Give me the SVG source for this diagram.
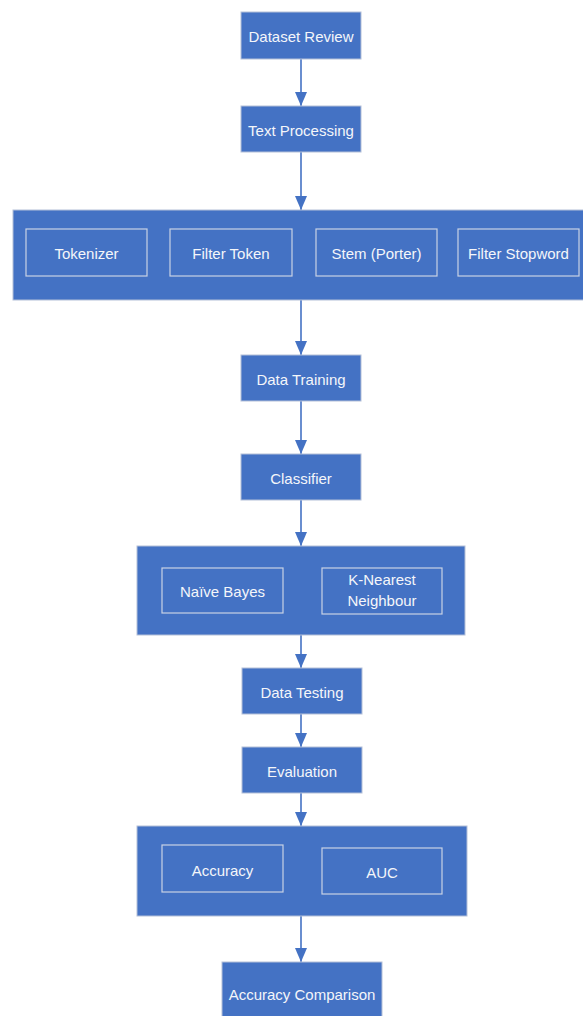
<svg xmlns="http://www.w3.org/2000/svg" width="583" height="1016" viewBox="0 0 583 1016">
<defs>
<style>
.box{fill:#4472C4;stroke:#B4C0D8;stroke-width:1}
.inner{fill:#4472C4;stroke:#C9D2E4;stroke-width:1.2}
.t{font-family:"Liberation Sans",Arial,sans-serif;font-size:15px;fill:#F4F6FA;text-anchor:middle}
.c{stroke:#4472C4;stroke-width:1.6;fill:none}
</style>
<marker id="ah" viewBox="0 0 14 12" refX="14" refY="6" markerWidth="14" markerHeight="12" markerUnits="userSpaceOnUse" orient="auto">
<path d="M0,0 L14,6 L0,12 Z" fill="#4472C4"/>
</marker>
</defs>
<rect width="583" height="1016" fill="#FFFFFF"/>
<g id="connectors">
<line class="c" x1="301" y1="59" x2="301" y2="106" marker-end="url(#ah)"/>
<line class="c" x1="301" y1="152" x2="301" y2="210" marker-end="url(#ah)"/>
<line class="c" x1="301" y1="300" x2="301" y2="355" marker-end="url(#ah)"/>
<line class="c" x1="301" y1="401" x2="301" y2="454" marker-end="url(#ah)"/>
<line class="c" x1="301" y1="500" x2="301" y2="546" marker-end="url(#ah)"/>
<line class="c" x1="301" y1="635" x2="301" y2="668" marker-end="url(#ah)"/>
<line class="c" x1="301" y1="714" x2="301" y2="747" marker-end="url(#ah)"/>
<line class="c" x1="301" y1="793" x2="301" y2="826" marker-end="url(#ah)"/>
<line class="c" x1="301" y1="916" x2="301" y2="962" marker-end="url(#ah)"/>
</g>
<g id="dataset-review"><rect class="box" x="241" y="12" width="120" height="47"/><text class="t" x="301" y="42">Dataset Review</text></g>
<g id="text-processing"><rect class="box" x="241" y="106" width="120" height="46"/><text class="t" x="301" y="136">Text Processing</text></g>
<g id="preprocessing">
<rect class="box" x="13" y="210" width="575" height="90"/>
<g id="tokenizer"><rect class="inner" x="26" y="229" width="121" height="47"/><text class="t" x="86.5" y="259">Tokenizer</text></g>
<g id="filter-token"><rect class="inner" x="170" y="229" width="122" height="47"/><text class="t" x="231" y="259">Filter Token</text></g>
<g id="stem-porter"><rect class="inner" x="316" y="229" width="121" height="47"/><text class="t" x="376.5" y="259">Stem (Porter)</text></g>
<g id="filter-stopword"><rect class="inner" x="458" y="229" width="121" height="47"/><text class="t" x="518.5" y="259">Filter Stopword</text></g>
</g>
<g id="data-training"><rect class="box" x="241" y="355" width="120" height="46"/><text class="t" x="301" y="385">Data Training</text></g>
<g id="classifier"><rect class="box" x="241" y="454" width="120" height="46"/><text class="t" x="301" y="484">Classifier</text></g>
<g id="classifiers">
<rect class="box" x="137" y="546" width="328" height="89"/>
<g id="naive-bayes"><rect class="inner" x="162" y="568" width="121" height="45"/><text class="t" x="222.5" y="597">Naïve Bayes</text></g>
<g id="knn"><rect class="inner" x="322" y="568" width="120" height="46"/><text class="t" x="382" y="585">K-Nearest</text><text class="t" x="382" y="606">Neighbour</text></g>
</g>
<g id="data-testing"><rect class="box" x="242" y="668" width="120" height="46"/><text class="t" x="302" y="698">Data Testing</text></g>
<g id="evaluation"><rect class="box" x="242" y="747" width="120" height="46"/><text class="t" x="302" y="777">Evaluation</text></g>
<g id="metrics">
<rect class="box" x="137" y="826" width="330" height="90"/>
<g id="accuracy"><rect class="inner" x="162" y="845" width="121" height="47"/><text class="t" x="222.5" y="876">Accuracy</text></g>
<g id="auc"><rect class="inner" x="322" y="848" width="120" height="46"/><text class="t" x="382" y="878">AUC</text></g>
</g>
<g id="accuracy-comparison"><rect class="box" x="222" y="962" width="160" height="60"/><text class="t" x="302" y="1000">Accuracy Comparison</text></g>
</svg>
